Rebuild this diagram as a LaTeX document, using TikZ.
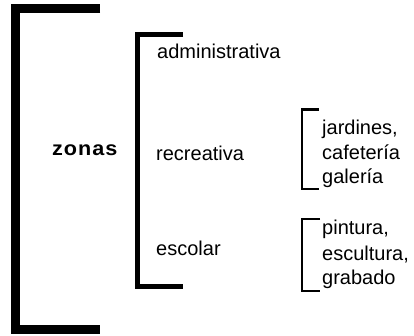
\documentclass[tikz,border=0pt]{standalone}
\usepackage{fontspec}
\setmainfont{Liberation Sans}
\newfontfamily\itemfont{Liberation Sans}
\newfontfamily\headfont{Liberation Sans}[FakeStretch=1.08,LetterSpace=5]
\usetikzlibrary{positioning}
\tikzset{
  itemtext/.style={
    anchor=base west,
    inner sep=0pt,
    font=\itemfont\fontsize{20}{25}\selectfont
  },
  headtext/.style={
    anchor=base west,
    inner sep=0pt,
    font=\headfont\bfseries\fontsize{20}{25}\selectfont
  },
  bigbracket/.style={line width=9pt, line join=miter, draw=black},
  midbracket/.style={line width=5pt, line join=miter, draw=black},
  smallbracket/.style={line width=2.6pt, line join=miter, draw=black}
}

\begin{document}
\begin{tikzpicture}[x=1pt,y=-1pt]
\useasboundingbox (0,0) rectangle (414,336);

\node[headtext] (zonas) at (52,156) {zonas};

\node[itemtext] (admin) at (157,59) {administrativa};
\node[itemtext] (recre) at (156,161) {recreativa};
\node[itemtext] (escol) at (156,255) {escolar};

\node[itemtext] (jard) at (322,135) {jardines,};
\node[itemtext] (cafe) at (322,160) {cafetería};
\node[itemtext] (gale) at (322,184) {galería};

\node[itemtext] (pint) at (322,235) {pintura,};
\node[itemtext] (escu) at (322,260) {escultura,};
\node[itemtext] (grab) at (322,284) {grabado};

\draw[bigbracket] (100,8.5) -- (15,8.5) -- (15,329.5) -- (100,329.5);
\draw[midbracket] (183,34.5) -- (137.5,34.5) -- (137.5,286) -- (183,286);
\draw[smallbracket] (319,109.5) -- (302,109.5) -- (302,189) -- (319,189);
\draw[smallbracket] (320,219) -- (302,219) -- (302,291) -- (320,291);

\end{tikzpicture}
\end{document}
